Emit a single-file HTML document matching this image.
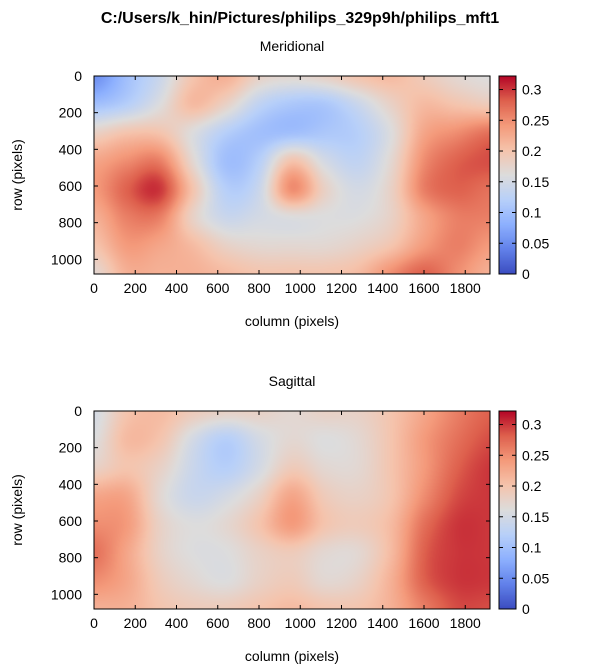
<!DOCTYPE html>
<html><head><meta charset="utf-8">
<style>
html,body{margin:0;padding:0;background:#fff;}
#wrap{position:relative;width:600px;height:672px;overflow:hidden;font-family:"Liberation Sans",sans-serif;}
canvas{position:absolute;}
svg{position:absolute;left:0;top:0;}
</style></head>
<body>
<div id="wrap">
<canvas id="c1" width="396" height="198" style="left:94px;top:76px"></canvas>
<canvas id="c2" width="396" height="198" style="left:94px;top:411px"></canvas>
<canvas id="cb1" width="17" height="198" style="left:499px;top:76px"></canvas>
<canvas id="cb2" width="17" height="198" style="left:499px;top:411px"></canvas>
<svg id="ov" width="600" height="672"></svg>
</div>
<script>
const xTicks=[0,200,400,600,800,1000,1200,1400,1600,1800];
const yTicks=[0,200,400,600,800,1000];
const cbTicks=[0,0.05,0.1,0.15,0.2,0.25,0.3];
const cbLabels=["0","0.05","0.1","0.15","0.2","0.25","0.3"];
const xMax=1920, yMax=1080, vMax=0.322;
const meridional=[
[0.05,0.10,0.14,0.20,0.22,0.18,0.17,0.18,0.20,0.21,0.19,0.17,0.16],
[0.10,0.12,0.16,0.21,0.18,0.13,0.11,0.11,0.14,0.18,0.21,0.20,0.19],
[0.18,0.20,0.20,0.16,0.12,0.10,0.10,0.11,0.12,0.16,0.23,0.25,0.27],
[0.23,0.25,0.26,0.17,0.10,0.12,0.20,0.15,0.13,0.17,0.25,0.28,0.29],
[0.24,0.28,0.30,0.20,0.12,0.14,0.25,0.18,0.15,0.18,0.26,0.28,0.27],
[0.22,0.26,0.26,0.18,0.14,0.15,0.16,0.16,0.16,0.18,0.23,0.26,0.26],
[0.20,0.24,0.23,0.21,0.18,0.17,0.17,0.17,0.18,0.20,0.24,0.26,0.24],
[0.17,0.22,0.22,0.22,0.21,0.20,0.20,0.20,0.21,0.25,0.28,0.25,0.22]];
const sagittal=[
[0.15,0.20,0.21,0.19,0.18,0.18,0.17,0.18,0.18,0.20,0.23,0.26,0.28],
[0.16,0.21,0.20,0.15,0.12,0.15,0.17,0.16,0.17,0.20,0.24,0.27,0.29],
[0.18,0.20,0.18,0.14,0.12,0.15,0.19,0.17,0.17,0.20,0.24,0.28,0.30],
[0.23,0.23,0.17,0.14,0.15,0.18,0.23,0.19,0.18,0.20,0.25,0.29,0.30],
[0.25,0.24,0.18,0.16,0.17,0.20,0.24,0.20,0.19,0.21,0.27,0.30,0.30],
[0.27,0.23,0.18,0.16,0.16,0.18,0.19,0.17,0.17,0.21,0.28,0.30,0.30],
[0.25,0.23,0.19,0.17,0.16,0.18,0.19,0.17,0.18,0.22,0.28,0.30,0.30],
[0.22,0.22,0.20,0.19,0.19,0.20,0.21,0.20,0.20,0.22,0.26,0.29,0.29]];

const cmap=[[59,76,192],[98,130,234],[141,176,254],[184,208,249],[221,220,220],[245,196,173],[244,154,123],[222,96,77],[180,4,38]];
function color(v){let t=Math.max(0,Math.min(1,v/vMax))*(cmap.length-1);let i=Math.min(cmap.length-2,Math.floor(t));let f=t-i;
 return cmap[i].map((c,k)=>Math.round(c+(cmap[i+1][k]-c)*f));}
function cr(p0,p1,p2,p3,t){return 0.5*((2*p1)+(-p0+p2)*t+(2*p0-5*p1+4*p2-p3)*t*t+(-p0+3*p1-3*p2+p3)*t*t*t);}
function sample(grid,gx,gy){const R=grid.length,C=grid[0].length;
 const r=Math.min(R-2,Math.floor(gy)),c=Math.min(C-2,Math.floor(gx));const fy=gy-r,fx=gx-c;
 const g=(i,j)=>grid[Math.max(0,Math.min(R-1,i))][Math.max(0,Math.min(C-1,j))];
 const rows=[];for(let k=-1;k<=2;k++){rows.push(cr(g(r+k,c-1),g(r+k,c),g(r+k,c+1),g(r+k,c+2),fx));}
 return cr(rows[0],rows[1],rows[2],rows[3],fy);}
function drawHeat(id,grid){
 const cv=document.getElementById(id),ctx=cv.getContext('2d');const W=cv.width,H=cv.height;
 const img=ctx.createImageData(W,H);const R=grid.length,C=grid[0].length;
 for(let y=0;y<H;y++){const gy=(y+0.5)/H*(R-1);
  for(let x=0;x<W;x++){const gx=(x+0.5)/W*(C-1);
   const v=sample(grid,gx,gy);
   const col=color(v);const p=(y*W+x)*4;img.data[p]=col[0];img.data[p+1]=col[1];img.data[p+2]=col[2];img.data[p+3]=255;}}
 ctx.putImageData(img,0,0);}
function drawBar(id){const cv=document.getElementById(id),ctx=cv.getContext('2d');
 for(let y=0;y<cv.height;y++){const c=color((1-(y+0.5)/cv.height)*vMax);ctx.fillStyle=`rgb(${c})`;ctx.fillRect(0,y,cv.width,1);}}
drawHeat('c1',meridional);drawHeat('c2',sagittal);drawBar('cb1');drawBar('cb2');

const ov=document.getElementById('ov');const NS='http://www.w3.org/2000/svg';
function mk(tag,attrs,txt){const e=document.createElementNS(NS,tag);for(const k in attrs)e.setAttribute(k,attrs[k]);if(txt!==undefined)e.textContent=txt;ov.appendChild(e);return e;}
let t=mk('text',{x:300,y:23,'text-anchor':'middle','font-size':'16','font-weight':'bold'},'C:/Users/k_hin/Pictures/philips_329p9h/philips_mft1');


function panel(top,name,title){
 const L=94,R=490,B=top+198,cbL=499,cbR=516;
 const sx=v=>L+v/xMax*(R-L), sy=v=>top+v/yMax*(B-top), sc=v=>B-v/vMax*(B-top);
 let e=mk('text',{x:292,y:top-25,'text-anchor':'middle','font-size':'14'},title);
 
 
 e=mk('rect',{x:L,y:top,width:R-L,height:B-top,fill:'none',stroke:'#000','stroke-width':1});
 
 
 e=mk('rect',{x:cbL,y:top,width:cbR-cbL,height:B-top,fill:'none',stroke:'#000','stroke-width':1});
 
 
 xTicks.forEach(v=>{const x=sx(v);mk('line',{x1:x,x2:x,y1:B,y2:B-4,stroke:'#000'});mk('line',{x1:x,x2:x,y1:top,y2:top+4,stroke:'#000'});
  e=mk('text',{x:x,y:B+19,'text-anchor':'middle','font-size':'14'},String(v));
  
  });
 yTicks.forEach(v=>{const y=sy(v);mk('line',{x1:L,x2:L+4,y1:y,y2:y,stroke:'#000'});mk('line',{x1:R,x2:R-4,y1:y,y2:y,stroke:'#000'});
  e=mk('text',{x:L-12,y:y+5,'text-anchor':'end','font-size':'14'},String(v));
  
  });
 cbTicks.forEach((v,i)=>{const y=sc(v);mk('line',{x1:cbL,x2:cbL+4,y1:y,y2:y,stroke:'#000'});mk('line',{x1:cbR,x2:cbR-4,y1:y,y2:y,stroke:'#000'});
  e=mk('text',{x:cbR+6,y:y+5,'font-size':'14'},cbLabels[i]);
  
  });
 e=mk('text',{x:292,y:B+52,'text-anchor':'middle','font-size':'14'},'column (pixels)');
 
 
 const cy=(top+B)/2;
 e=mk('text',{x:22,y:cy,'text-anchor':'middle','font-size':'14',transform:`rotate(-90 22 ${cy})`},'row (pixels)');
 
 
}
panel(76,'meridional','Meridional');
panel(411,'sagittal','Sagittal');
</script>
</body></html>
